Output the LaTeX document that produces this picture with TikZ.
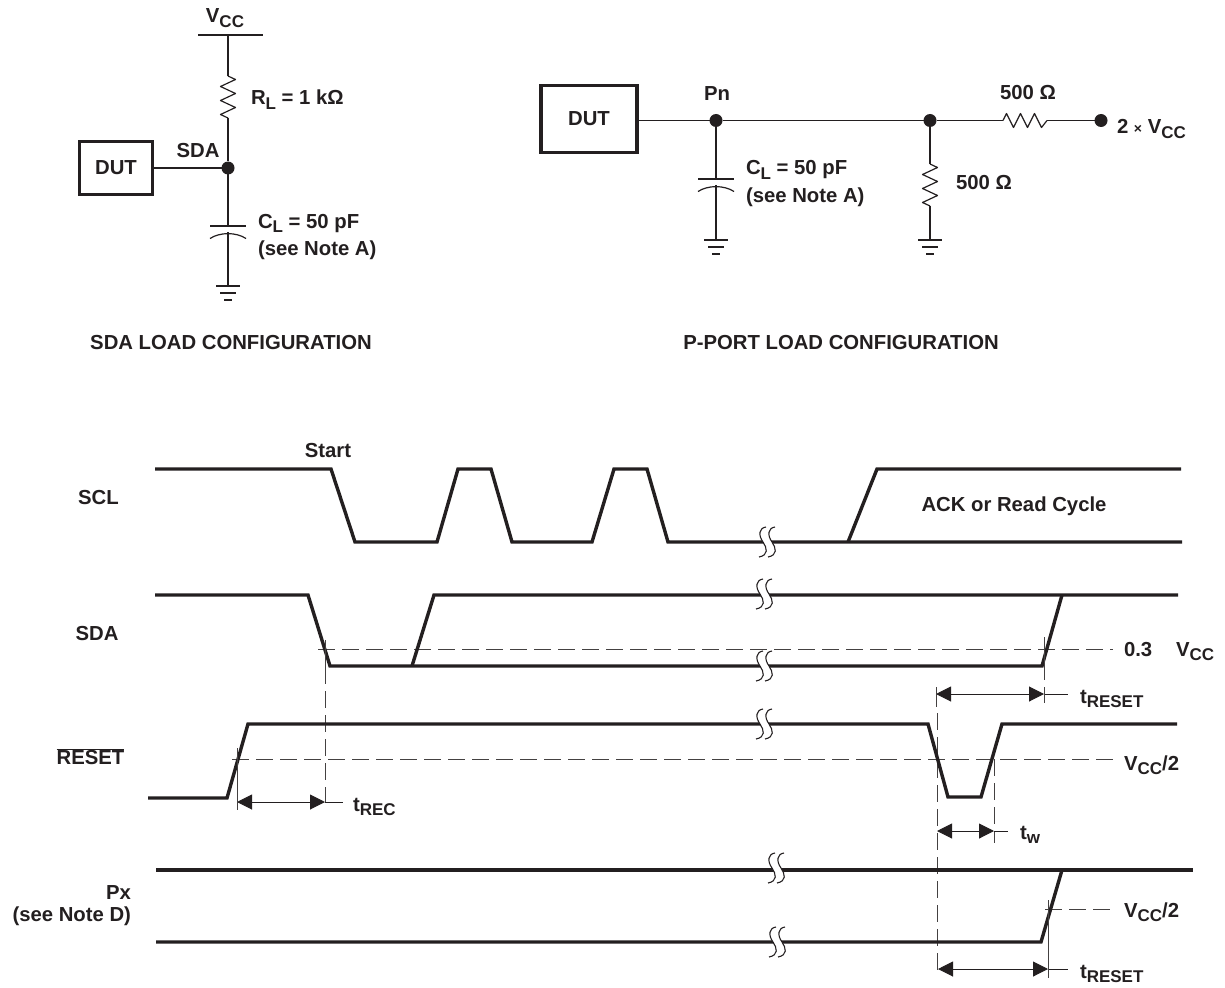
\documentclass[tikz,border=0pt]{standalone}
\usepackage{fontspec}
\setmainfont{Liberation Sans}[BoldFont={Liberation Sans Bold}]
\usetikzlibrary{arrows.meta,calc}
\definecolor{ink}{HTML}{231F20}
\newcommand{\Vcc}{V\raisebox{-0.24em}{\fontsize{17}{17}\selectfont CC}}
\newcommand{\tsub}[2]{#1\raisebox{-0.24em}{\fontsize{17}{17}\selectfont #2}}
\tikzset{
  x=1pt,y=-1pt,
  every node/.style={inner sep=0pt,outer sep=0pt,text=ink,font=\fontsize{20.3}{24}\selectfont\bfseries},
  wire/.style={draw=ink,line width=1.2pt},
  sig/.style={draw=ink,line width=3.4pt,line join=miter},
  dut/.style={draw=ink,line width=3.4pt,fill=white},
  jdot/.style={circle,fill=ink,minimum size=13pt},
  thinwire/.style={draw=ink,line width=1pt},
  refline/.style={draw=ink!85,line width=1pt,dash pattern=on 17pt off 7pt},
  tickline/.style={draw=ink!85,line width=1pt},
  dimline/.style={draw=ink,line width=1pt,{Triangle[length=15pt,width=15pt]}-{Triangle[length=15pt,width=15pt]}},
  brk/.pic={
    \fill[white] (3,-15) .. controls (-4,-14) and (-5,-7) .. (0,0) .. controls (4,6) and (6,13) .. (-4,15) -- (5,15) .. controls (15,13) and (13,6) .. (9,0) .. controls (4,-7) and (5,-14) .. (12,-15) -- cycle;
    \draw[ink,line width=1.1pt] (3,-15) .. controls (-4,-14) and (-5,-7) .. (0,0) .. controls (4,6) and (6,13) .. (-4,15);
    \draw[ink,line width=1.1pt] (12,-15) .. controls (5,-14) and (4,-7) .. (9,0) .. controls (13,6) and (15,13) .. (5,15);
  },
  gnd/.pic={
    \draw[ink,line width=1.1pt] (-12,0) -- (12,0) (-8,7) -- (8,7) (-4,14) -- (4,14);
  },
  capsym/.pic={
    \draw[ink,line width=1.2pt] (-18,0) -- (18,0);
    \draw[ink,line width=1.2pt] (-18,12.5) .. controls (-8,6) and (8,6) .. (18,12.5);
  },
  vres/.pic={
    \draw[ink,line width=1.2pt,line join=round] (0,0) -- (7.5,3.5) -- (-7.5,10.5) -- (7.5,17.5) -- (-7.5,24.5) -- (7.5,31.5) -- (-7.5,38.5) -- (0,42);
  },
  hres/.pic={
    \draw[ink,line width=1.2pt,line join=round] (0,0) -- (3.5,-7) -- (10.5,7) -- (17.5,-7) -- (24.5,7) -- (31.5,-7) -- (38.5,7) -- (44,0);
  }
}
\begin{document}
\begin{tikzpicture}
\useasboundingbox (0,0) rectangle (1225,987);
% ---------- SDA load
\node[dut,minimum width=73pt,minimum height=53pt] (dutA) at (116,168) {DUT};
\node[jdot] (jA) at (228,168) {};
\coordinate (vccA) at (228,35);
\coordinate (rAt) at (228,76);
\coordinate (rAb) at (228,118);
\coordinate (cAt) at (228,226);
\coordinate (cAb) at (228,232);
\coordinate (gA) at (228,286);
\coordinate (vbL) at (198,35);
\coordinate (vbR) at (263,35);
\draw[wire] (vbL) -- (vbR);
\draw[wire] (vccA) -- (rAt);
\pic at (rAt) {vres};
\draw[wire] (rAb) -- (jA);
\draw[wire] (dutA) -- (jA);
\draw[wire] (jA) -- (cAt);
\pic at (cAt) {capsym};
\draw[wire] (cAb) -- (gA);
\pic at (gA) {gnd};
\node (tVccA) at (225,18) {\Vcc};
\node[anchor=base west] (tRL) at (251,105) {\tsub{R}{L} = 1 kΩ};
\node (tSDAa) at (198,151) {SDA};
\node[anchor=base west] (tCLa) at (258,228) {\tsub{C}{L} = 50 pF};
\node[anchor=base west] (tNa) at (258,255) {(see Note A)};
\node (capA) at (231,343) {SDA LOAD CONFIGURATION};
% ---------- P-port load
\node[dut,minimum width=96pt,minimum height=67pt] (dutB) at (589,119) {DUT};
\node[jdot] (jB) at (716,120.5) {};
\node[jdot] (jC) at (930,120.5) {};
\node[jdot] (jD) at (1101,120.5) {};
\coordinate (hrL) at (1003,120.5);
\coordinate (hrR) at (1047,120.5);
\coordinate (cBt) at (716,179);
\coordinate (cBb) at (716,185);
\coordinate (gB) at (716,240);
\coordinate (vrT) at (930,164);
\coordinate (vrB) at (930,206);
\coordinate (gC) at (930,240);
\draw[wire] (dutB.east |- jB) -- (jB);
\draw[wire] (jB) -- (jC);
\draw[wire] (jC) -- (hrL);
\pic at (hrL) {hres};
\draw[wire] (hrR) -- (jD);
\draw[wire] (jB) -- (cBt);
\pic at (cBt) {capsym};
\draw[wire] (cBb) -- (gB);
\pic at (gB) {gnd};
\draw[wire] (jC) -- (vrT);
\pic at (vrT) {vres};
\draw[wire] (vrB) -- (gC);
\pic at (gC) {gnd};
\node (tPn) at (717,94) {Pn};
\node (t500a) at (1028,93) {500 Ω};
\node[anchor=base west] (t2V) at (1117,134) {2 {\fontsize{14}{14}\selectfont×} \Vcc};
\node[anchor=base west] (tCLb) at (746,175) {\tsub{C}{L} = 50 pF};
\node[anchor=base west] (tNb) at (746,203) {(see Note A)};
\node (t500b) at (984,183) {500 Ω};
\node (capB) at (841,343) {P-PORT LOAD CONFIGURATION};
% ---------- timing reference lines (under the signals)
\coordinate (d1a) at (318,649); \coordinate (d1b) at (1113,649);
\coordinate (d2a) at (232,759); \coordinate (d2b) at (1113,759);
\coordinate (d3a) at (1045,909); \coordinate (d3b) at (1112,909);
\coordinate (v1a) at (325,667); \coordinate (v1b) at (325,803);
\coordinate (v2a) at (937,713); \coordinate (v2b) at (937,975);
\coordinate (v3a) at (994,759); \coordinate (v3b) at (994,843);
\draw[refline] (d1a) -- (d1b);
\draw[refline] (d2a) -- (d2b);
\draw[refline] (d3a) -- (d3b);
\draw[refline] (v1a) -- (v1b);
\draw[refline] (v2a) -- (v2b);
\draw[refline] (v3a) -- (v3b);
% ---------- signals
\draw[sig] (155,469) -- (331,469) -- (355,542) -- (437,542) -- (458,469) -- (491,469) -- (512,542) -- (592,542) -- (614,469) -- (647,469) -- (668,542) -- (1182,542);
\draw[sig] (848,542) -- (877,469) -- (1181,469);
\draw[sig] (155,595) -- (308,595) -- (330,666) -- (1042,666) -- (1062,595);
\draw[sig] (412,666) -- (434,595) -- (1178,595);
\draw[sig] (148,798) -- (227,798) -- (248,724) -- (928,724) -- (948,797) -- (981,797) -- (1002,724) -- (1177,724);
\draw[sig] (156,870) -- (1193,870);
\draw[sig] (156,942) -- (1041,942) -- (1062,870);
% ---------- breaks
\pic at (763,542) {brk};
\pic at (760,594) {brk};
\pic at (760,666) {brk};
\pic at (760,724) {brk};
\pic at (772,868) {brk};
\pic at (773,942) {brk};
% ---------- dimensions
\coordinate (a1L) at (237,802); \coordinate (a1R) at (325,802); \coordinate (a1E) at (343,802);
\coordinate (a2L) at (936,694); \coordinate (a2R) at (1044,694); \coordinate (a2E) at (1068,694);
\coordinate (a3L) at (937,831); \coordinate (a3R) at (994,831); \coordinate (a3E) at (1008,831);
\coordinate (a4L) at (938,969); \coordinate (a4R) at (1048,969); \coordinate (a4E) at (1068,969);
\draw[dimline] (a1L) -- (a1R);
\draw[dimline] (a2L) -- (a2R);
\draw[dimline] (a3L) -- (a3R);
\draw[dimline] (a4L) -- (a4R);
\draw[thinwire] (a1R) -- (a1E);
\draw[thinwire] (a2R) -- (a2E);
\draw[thinwire] (a3R) -- (a3E);
\draw[thinwire] (a4R) -- (a4E);
% ---------- ticks
\draw[tickline] (237,748) -- (237,810);
\draw[tickline] (325,640) -- (325,667);
\draw[tickline] (1044,637) -- (1044,680);
\draw[tickline] (1044,687) -- (1044,703);
\draw[tickline] (936,687) -- (936,707);
\draw[tickline] (1048,900) -- (1048,978);
% ---------- timing labels
\node (tStart) at (328,451) {Start};
\node (tSCL) at (98.5,498) {SCL};
\node (tACK) at (1014,506) {ACK or Read Cycle};
\node (tSDAb) at (97,634) {SDA};
\node (tRST) at (90.5,757) {$\overline{\hbox{RESET}}$};
\node[anchor=east] (tPx) at (131,893) {Px};
\node[anchor=east] (tNd) at (131,916) {(see Note D)};
\node[anchor=base west] (t03) at (1124,656) {0.3};
\node[anchor=base west] (tV3) at (1176,656) {\Vcc};
\node[anchor=base west] (tV2a) at (1124,770) {\Vcc/2};
\node[anchor=base west] (tV2b) at (1124,917) {\Vcc/2};
\node[anchor=base west] (tR1) at (1080,703) {\tsub{t}{RESET}};
\node[anchor=base west] (tR2) at (1080,978) {\tsub{t}{RESET}};
\node[anchor=base west] (tREC) at (353,811) {\tsub{t}{REC}};
\node[anchor=base west] (tw) at (1020,839) {\tsub{t}{w}};
\end{tikzpicture}
\end{document}
